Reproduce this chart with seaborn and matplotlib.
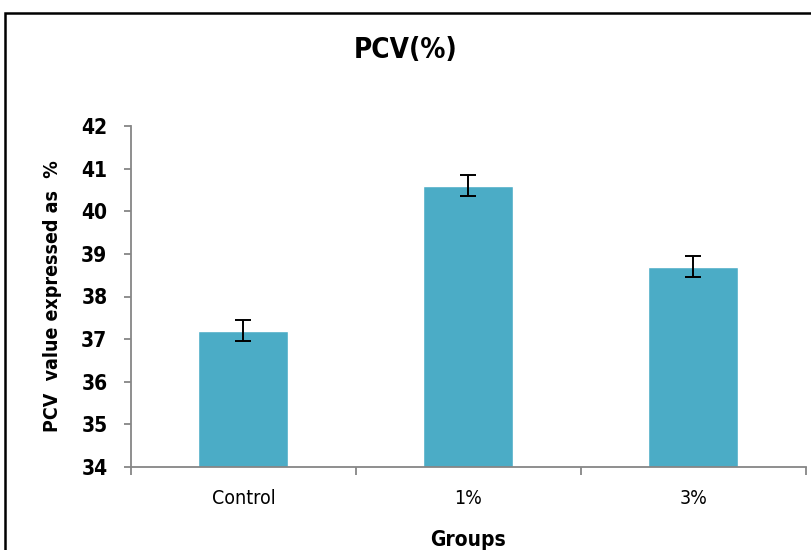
import matplotlib
matplotlib.use("Agg")
import matplotlib.pyplot as plt
from matplotlib import font_manager
from matplotlib.font_manager import FontProperties
from matplotlib.patches import Rectangle
import seaborn as sns
import pandas as pd

groups = ["Control", "1%", "3%"]
pcv_mean = [37.2, 40.6, 38.7]
pcv_err = [0.25, 0.25, 0.25]
y_ticks = [34, 35, 36, 37, 38, 39, 40, 41, 42]

sns.set_theme(style="white")
plt.rcParams["font.family"] = ["DejaVu Sans"]
for key in ["text.color", "axes.labelcolor", "xtick.color", "ytick.color"]:
    plt.rcParams[key] = "black"


def narrow_font(bold):
    """Pick a condensed sans face if one is installed."""
    best = None
    for f in font_manager.fontManager.ttflist:
        path = f.fname.lower()
        if "condensed" not in path and "narrow" not in path:
            continue
        if "oblique" in path or "italic" in path:
            continue
        is_bold = "bold" in path
        if is_bold == bold:
            if "dejavusans" in path.replace("-", "").replace(" ", ""):
                return f.fname
            best = best or f.fname
    return best


reg_file = narrow_font(False)
bold_file = narrow_font(True)


def fp(size, bold=False):
    path = bold_file if bold else reg_file
    if path:
        return FontProperties(fname=path, size=size)
    return FontProperties(family="DejaVu Sans", size=size,
                          weight="bold" if bold else "normal")


df = pd.DataFrame({"Group": groups, "PCV": pcv_mean})

fig = plt.figure(figsize=(8.12, 5.5), dpi=100)
ax = fig.add_axes([131 / 812, 1 - 467 / 550, 675 / 812, 341 / 550])

bar_color = "#4BACC6"
sns.barplot(data=df, x="Group", y="PCV", color=bar_color, width=0.4,
            saturation=1, errorbar=None, ax=ax)
ax.errorbar(range(len(groups)), pcv_mean, yerr=pcv_err, fmt="none",
            ecolor="black", elinewidth=1.4, capsize=5.5, capthick=1.4)

ax.set_ylim(34, 42)
ax.set_xlim(-0.5, len(groups) - 0.5)
ax.set_yticks(y_ticks)
ax.set_yticklabels([str(t) for t in y_ticks], fontproperties=fp(15, True))

# category boundaries carry the tick marks, labels sit between them
ax.set_xticks([i - 0.5 for i in range(len(groups) + 1)])
ax.set_xticklabels([])
ax.set_xticks(range(len(groups)), minor=True)
ax.set_xticklabels(groups, minor=True, fontproperties=fp(14))
ax.tick_params(axis="x", which="major", direction="out", length=6, width=1.3,
               color="#868686", bottom=True)
ax.tick_params(axis="x", which="minor", length=0, pad=16)
ax.tick_params(axis="y", direction="out", length=5, width=1.3,
               color="#868686", left=True, pad=12)

for side in ["top", "right"]:
    ax.spines[side].set_visible(False)
for side in ["left", "bottom"]:
    ax.spines[side].set_color("#868686")
    ax.spines[side].set_linewidth(1.3)

ax.set_xlabel("Groups", fontproperties=fp(15, True), labelpad=16)
ax.set_ylabel("PCV  value expressed as  %", fontproperties=fp(14, True),
              labelpad=14)

fig.text(0.5, 1 - 50 / 550, "PCV(%)", ha="center", va="center",
         fontproperties=fp(20, True))

# outer chart frame
fig.patches.append(Rectangle((5 / 812, -0.1), 2.0, 1 - 13 / 550 + 0.1,
                             transform=fig.transFigure, fill=False,
                             edgecolor="black", linewidth=1.8))

fig.savefig("out.png", dpi=100)
